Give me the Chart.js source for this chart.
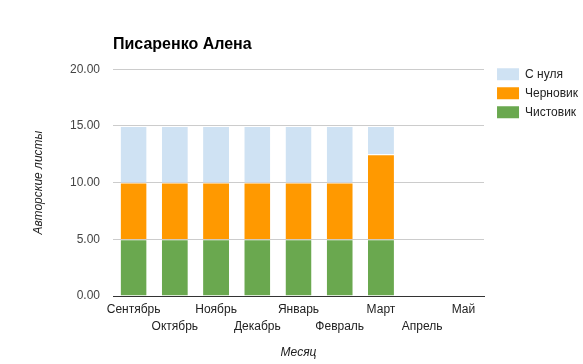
<!DOCTYPE html>
<html>
<head>
<meta charset="utf-8">
<script src="https://cdn.jsdelivr.net/npm/chart.js@4"></script>
<style>
  body { margin: 0; background: #fff; }
  #wrap { width: 583px; height: 364px; }
</style>
</head>
<body>
<div id="wrap"><canvas id="canvas" width="583" height="364"></canvas></div>
<script>
const months = ['Сентябрь', 'Октябрь', 'Ноябрь', 'Декабрь', 'Январь', 'Февраль', 'Март', 'Апрель', 'Май'];
const chistovik = [5, 5, 5, 5, 5, 5, 5, 0, 0];
const chernovik = [5, 5, 5, 5, 5, 5, 7.5, 0, 0];
const sNulya = [5, 5, 5, 5, 5, 5, 2.5, 0, 0];
const yTicks = [0, 5, 10, 15, 20];

const FONT = 'Arial, "Liberation Sans", sans-serif';
const gap = 'rgba(255,255,255,0)';

// nudge the legend a bit right / up, like the original
const legendShift = {
    id: 'legendShift',
    afterLayout(chart) {
        chart.legend.left += 6;
        chart.legend.top -= 8;
    }
};

const ctx = document.getElementById('canvas').getContext('2d');
const myChart = new Chart(ctx, {
    type: 'bar',
    data: {
        labels: months,
        datasets: [
            { label: 'Чистовик', data: chistovik, backgroundColor: '#6aa84f', borderColor: gap, borderWidth: {top: 1}, borderSkipped: false },
            { label: 'Черновик', data: chernovik, backgroundColor: '#ff9900', borderColor: gap, borderWidth: {top: 1}, borderSkipped: false },
            { label: 'С нуля', data: sNulya, backgroundColor: '#cfe2f3', borderColor: gap, borderWidth: {top: 1}, borderSkipped: false }
        ]
    },
    options: {
        responsive: false,
        animation: false,
        barPercentage: 0.63,
        categoryPercentage: 1,
        layout: { padding: { left: 31, right: 1, top: 35, bottom: 4 } },
        plugins: {
            title: {
                display: true,
                text: 'Писаренко Алена',
                align: 'start',
                fullSize: false,
                color: '#000',
                font: { family: FONT, size: 16, weight: 'bold' },
                padding: { top: 0, bottom: 15 }
            },
            legend: {
                position: 'right',
                align: 'start',
                reverse: true,
                fullSize: false,
                labels: {
                    boxWidth: 22,
                    boxHeight: 12,
                    padding: 7,
                    color: '#222',
                    font: { family: FONT, size: 12 }
                }
            },
            tooltip: { enabled: false }
        },
        scales: {
            x: {
                stacked: true,
                grid: { display: false, drawTicks: false },
                border: { color: '#333' },
                ticks: {
                    color: '#222',
                    font: { family: FONT, size: 12, lineHeight: 1.35 },
                    maxRotation: 0,
                    autoSkip: false,
                    padding: 6,
                    callback: function (v, i) { return i % 2 ? ['', months[i]] : [months[i]]; }
                },
                title: {
                    display: true,
                    text: 'Месяц',
                    color: '#222',
                    font: { family: FONT, size: 12, style: 'italic' },
                    padding: { top: 5, bottom: 0 }
                },
                afterFit: function (s) { s.height = 64; }
            },
            y: {
                stacked: true,
                min: 0,
                max: 20,
                afterBuildTicks: function (s) { s.ticks = yTicks.map(v => ({ value: v })); },
                grid: { color: '#ccc', drawTicks: false },
                border: { display: false },
                ticks: {
                    color: '#444',
                    font: { family: FONT, size: 12 },
                    padding: 13,
                    callback: v => v.toFixed(2)
                },
                title: {
                    display: true,
                    text: 'Авторские листы',
                    color: '#222',
                    font: { family: FONT, size: 12, style: 'italic' },
                    padding: { top: 0, bottom: 0 }
                },
                afterFit: function (s) { s.width = 82; }
            }
        }
    },
    plugins: [legendShift]
});
</script>
</body>
</html>
